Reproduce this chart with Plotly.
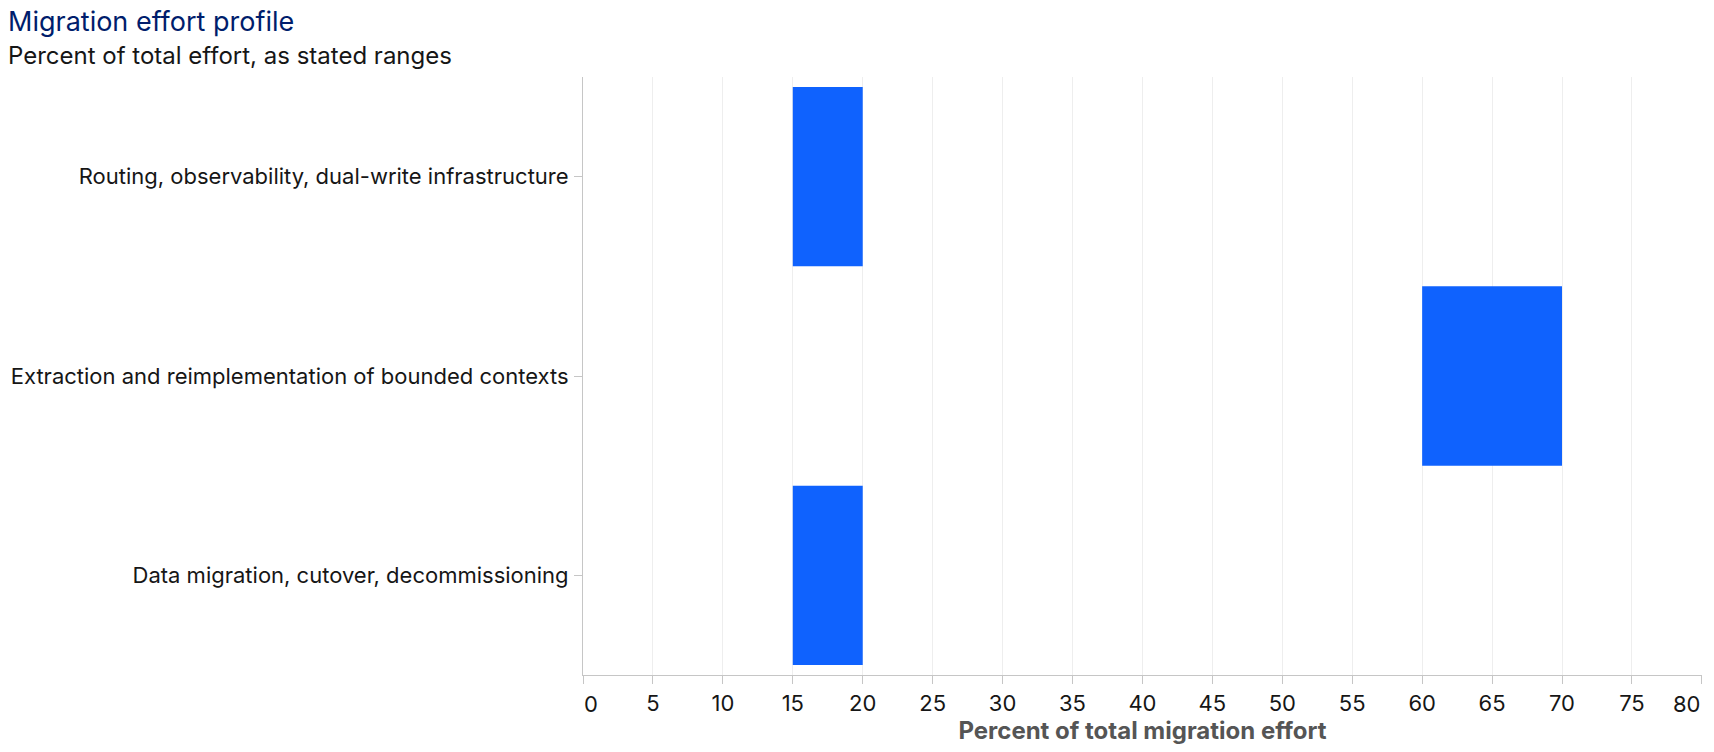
import plotly.graph_objects as go

categories = [
    "Routing, observability, dual-write infrastructure",
    "Extraction and reimplementation of bounded contexts",
    "Data migration, cutover, decommissioning",
]
range_low = [15, 60, 15]
range_high = [20, 70, 20]
x_ticks = list(range(0, 81, 5))

W, H = 1714, 752
L, R, T, B = 583, 12, 77, 77
pw = W - L - R
ph = H - T - B
TICKLEN = 8

# first and last labels are drawn flush to their ticks (as annotations)
tick_text = [str(v) for v in x_ticks]
tick_text[0] = ""
tick_text[-1] = ""

fig = go.Figure()
fig.add_trace(go.Bar(
    y=categories,
    x=[h - l for l, h in zip(range_low, range_high)],
    base=range_low,
    orientation="h",
    marker=dict(color="#0f62fe", line=dict(width=0)),
    hoverinfo="skip",
))

tickfont = dict(size=22, color="#161616", family="Inter")

fig.update_layout(
    width=W, height=H,
    margin=dict(l=L, r=R, t=T, b=B, autoexpand=False),
    paper_bgcolor="white", plot_bgcolor="white",
    font=dict(family="Inter", color="#161616"),
    showlegend=False,
    bargap=0.1,
    xaxis=dict(
        range=[0, 80.01], tickvals=x_ticks, ticktext=tick_text,
        showgrid=True, gridcolor="#eeeeee", gridwidth=1,
        showline=True, linecolor="#c6c6c6", linewidth=1,
        ticks="outside", ticklen=TICKLEN, tickcolor="#c6c6c6",
        tickfont=tickfont, ticklabelstandoff=1,
        ticklabeloverflow="allow",
        zeroline=False, automargin=False,
        title=dict(text="<b>Percent of total migration effort</b>",
                   font=dict(size=24, color="#555555"), standoff=5),
    ),
    yaxis=dict(
        categoryorder="array", categoryarray=categories, autorange="reversed",
        showgrid=False,
        showline=True, linecolor="#c6c6c6", linewidth=1,
        ticks="outside", ticklen=TICKLEN, tickcolor="#c6c6c6",
        tickfont=tickfont, ticklabelstandoff=1,
        zeroline=False, automargin=False,
    ),
    annotations=[
        dict(text="Migration effort profile", xref="paper", yref="paper",
             x=(6 - L) / pw, y=1 + (T - 21) / ph, xanchor="left", yanchor="middle",
             showarrow=False, font=dict(size=27, color="#001d6c")),
        dict(text="Percent of total effort, as stated ranges", xref="paper", yref="paper",
             x=(6 - L) / pw, y=1 + (T - 55) / ph, xanchor="left", yanchor="middle",
             showarrow=False, font=dict(size=24, color="#161616")),
        dict(text=str(x_ticks[0]), xref="x", yref="paper", x=x_ticks[0], y=0,
             xanchor="left", yanchor="top", yshift=-(TICKLEN + 6), xshift=-1,
             showarrow=False, font=tickfont),
        dict(text=str(x_ticks[-1]), xref="x", yref="paper", x=x_ticks[-1], y=0,
             xanchor="right", yanchor="top", yshift=-(TICKLEN + 6), xshift=1,
             showarrow=False, font=tickfont),
    ],
)

fig.write_html("out.html")
